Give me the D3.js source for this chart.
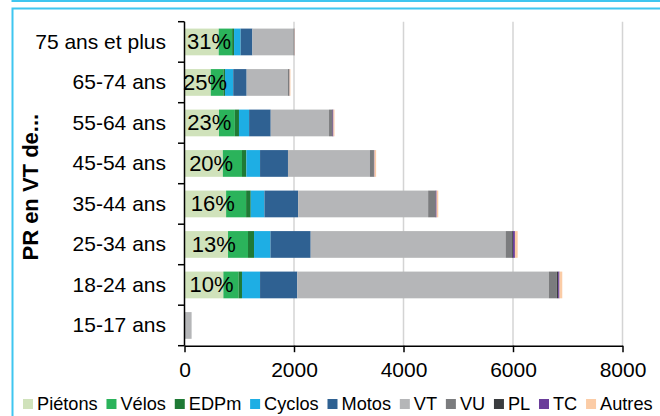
<!DOCTYPE html>
<html>
<head>
<meta charset="utf-8">
<script src="https://cdn.jsdelivr.net/npm/d3@7"></script>
<style>
  html, body { margin: 0; padding: 0; background: #fff; }
  svg { display: block; font-family: Arial, "Liberation Sans", Helvetica, sans-serif; }
</style>
</head>
<body>
<svg id="chart" width="660" height="416"></svg>
<script>
// Age groups (top to bottom)
const categories = ["75 ans et plus", "65-74 ans", "55-64 ans", "45-54 ans", "35-44 ans", "25-34 ans", "18-24 ans", "15-17 ans"];
const seriesNames = ["Piétons", "Vélos", "EDPm", "Cyclos", "Motos", "VT", "VU", "PL", "TC", "Autres"];

// Counts per road-user category, one value per age group
const pietons = [625, 480, 630, 700, 760, 795, 710, 0];
const velos   = [245, 230, 290, 350, 365, 365, 280, 0];
const edpm    = [35, 30, 75, 80, 85, 110, 60, 0];
const cyclos  = [120, 150, 185, 250, 250, 300, 330, 0];
const motos   = [215, 245, 395, 510, 615, 735, 680, 0];
const vt      = [750, 755, 1065, 1495, 2375, 3560, 4595, 130];
const vu      = [15, 25, 55, 70, 130, 120, 145, 0];
const pl      = [3, 3, 10, 8, 10, 15, 25, 0];
const tc      = [2, 2, 15, 7, 15, 35, 25, 0];
const autres  = [5, 15, 20, 30, 30, 50, 50, 0];

const xTicks = [0, 2000, 4000, 6000, 8000];
const yTitle = "PR en VT de...";

const seriesColors = ["#d0e2bb", "#2bb35b", "#1f7a35", "#1eaee4", "#2f6192", "#b5b6b8", "#7b7c7e", "#3a3c3f", "#6a3d9a", "#fbcca6"];
const seriesValues = [pietons, velos, edpm, cyclos, motos, vt, vu, pl, tc, autres];

const rows = categories.map((c, i) => {
  const r = { cat: c };
  seriesNames.forEach((s, k) => { r[s] = seriesValues[k][i]; });
  return r;
});

const svg = d3.select("#chart");

// frame
const frameColor = "#3fc6f0";
svg.append("rect").attr("x", 12.5).attr("y", -60).attr("width", 700).attr("height", 61)
  .attr("fill", "none").attr("stroke", frameColor).attr("stroke-width", 2);
svg.append("rect").attr("x", 12.5).attr("y", 8.5).attr("width", 700).attr("height", 500)
  .attr("fill", "none").attr("stroke", frameColor).attr("stroke-width", 2);

const x = d3.scaleLinear().domain([0, 8000]).range([184.5, 622.5]);
const y = d3.scaleBand().domain(categories).range([21.7, 345.7]).paddingInner(0.34).paddingOuter(0.17);

// vertical gridlines
svg.append("g").selectAll("line").data(xTicks.filter(d => d > 0)).join("line")
  .attr("x1", d => x(d)).attr("x2", d => x(d))
  .attr("y1", y.range()[0]).attr("y2", y.range()[1])
  .attr("stroke", "#d4d4d4").attr("stroke-width", 1.5);

// stacked bars
const stack = d3.stack().keys(seriesNames);
const layers = stack(rows);
svg.append("g").selectAll("g").data(layers).join("g")
  .attr("fill", (d, i) => seriesColors[i])
  .selectAll("rect").data(d => d).join("rect")
  .attr("x", d => x(d[0]))
  .attr("width", d => Math.max(0, x(d[1]) - x(d[0])))
  .attr("y", d => y(d.data.cat))
  .attr("height", y.bandwidth());

// share of pedestrians
const pct = d3.format(".0%");
svg.append("g").selectAll("text").data(rows.filter(r => r["Piétons"] > 0)).join("text")
  .attr("x", r => x(r["Piétons"] / 2) + 7.5)
  .attr("y", r => y(r.cat) + y.bandwidth() / 2)
  .attr("text-anchor", "middle")
  .attr("dominant-baseline", "central")
  .attr("font-size", 22)
  .attr("fill", "#000")
  .text(r => pct(r["Piétons"] / d3.sum(seriesNames, s => r[s])));

// y axis: labels at band centres, ticks at band boundaries
const yAxis = svg.append("g").attr("transform", `translate(${x(0)},0)`)
  .call(d3.axisLeft(y).tickSize(0).tickPadding(18.5));
yAxis.attr("font-family", null).attr("font-size", null);
yAxis.select(".domain").remove();
yAxis.selectAll("text").attr("font-size", 21).attr("fill", "#000");

const bounds = d3.range(categories.length + 1).map(i => y.range()[0] + i * y.step());
svg.append("g").selectAll("line").data(bounds).join("line")
  .attr("x1", x(0) - 6.5).attr("x2", x(0))
  .attr("y1", d => d).attr("y2", d => d)
  .attr("stroke", "#000").attr("stroke-width", 1.5);
svg.append("line")
  .attr("x1", x(0)).attr("x2", x(0))
  .attr("y1", y.range()[0]).attr("y2", y.range()[1])
  .attr("stroke", "#000").attr("stroke-width", 1.5);

// x axis
const xAxis = svg.append("g").attr("transform", `translate(0,${y.range()[1]})`)
  .call(d3.axisBottom(x).tickValues(xTicks).tickFormat(d3.format("d")).tickSize(6.5).tickPadding(10).tickSizeOuter(0));
xAxis.attr("font-family", null).attr("font-size", null);
xAxis.select(".domain").attr("stroke", "#000").attr("stroke-width", 1.5);
xAxis.selectAll(".tick line").attr("stroke", "#000").attr("stroke-width", 1.5);
xAxis.selectAll("text").attr("font-size", 21).attr("fill", "#000");

// y axis title
svg.append("text")
  .attr("transform", `translate(30,${(y.range()[0] + y.range()[1]) / 2 + 3.5}) rotate(-90)`)
  .attr("text-anchor", "middle")
  .attr("dominant-baseline", "central")
  .attr("font-size", 22)
  .attr("font-weight", "bold")
  .text(yTitle);

// legend
const legend = svg.append("g").attr("transform", "translate(23,404)");
let lx = 0;
seriesNames.forEach((name, i) => {
  const g = legend.append("g").attr("transform", `translate(${lx},0)`);
  g.append("rect").attr("x", 0).attr("y", -5).attr("width", 10).attr("height", 10).attr("fill", seriesColors[i]);
  const t = g.append("text").attr("x", 14).attr("y", 0)
    .attr("dominant-baseline", "central").attr("font-size", 18.2).attr("fill", "#000").text(name);
  lx += 14 + t.node().getComputedTextLength() + 8.8;
});
</script>
</body>
</html>
